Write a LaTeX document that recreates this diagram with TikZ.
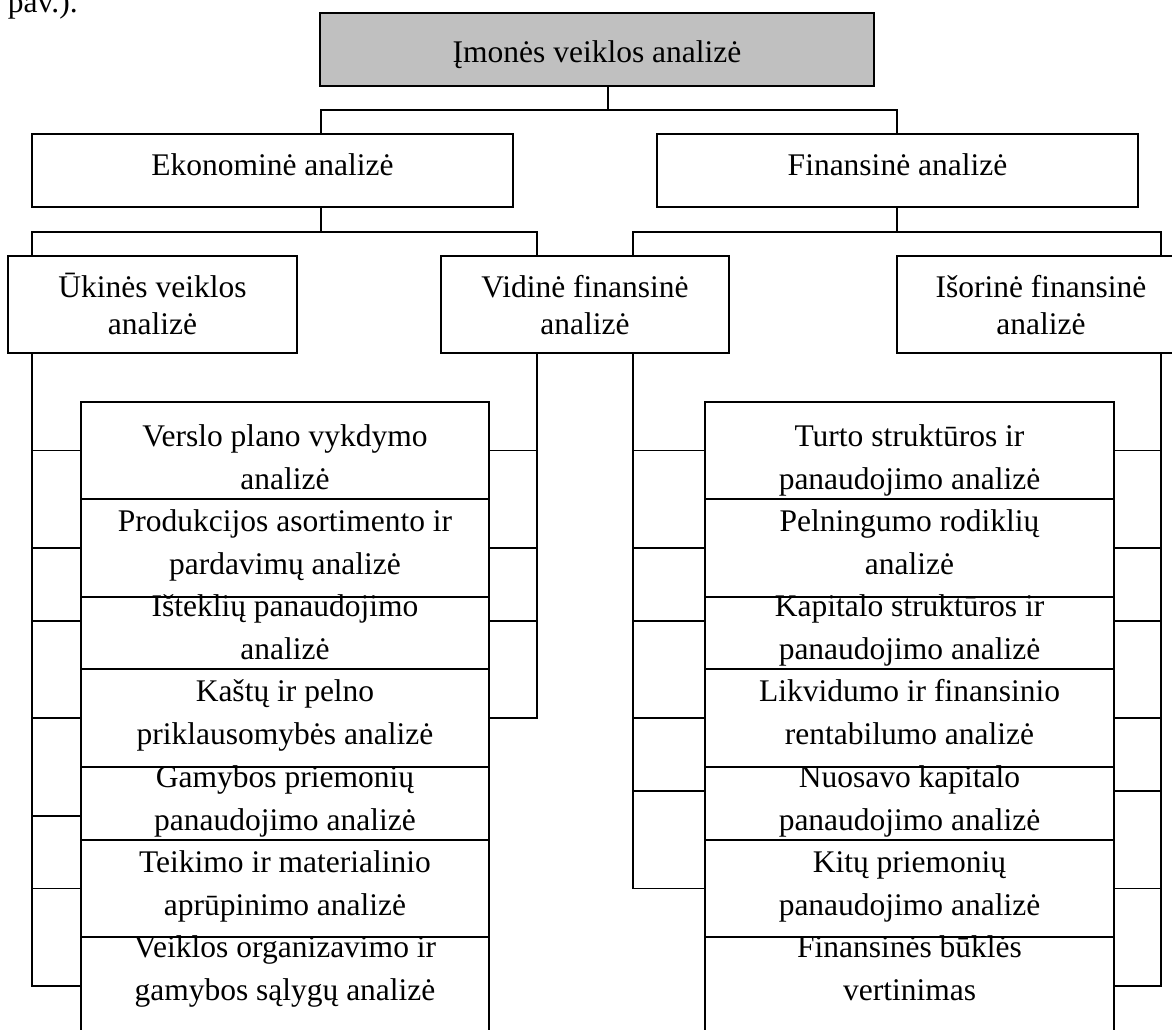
\documentclass[tikz,border=0pt]{standalone}
\usepackage{fontspec}
\setmainfont{Liberation Serif}
\definecolor{boxgray}{HTML}{C0C0C0}
\newcommand{\mytwo}[2]{\strut #1\\\strut #2}
\begin{document}
\begin{tikzpicture}[x=1pt,y=-1pt,line width=1.4pt,
  box/.style={draw=black,rectangle,inner sep=0pt,outer sep=0pt},
  lab/.style={inner sep=0pt,outer sep=0pt,align=center,font=\fontsize{31.5}{43}\selectfont},
  labtwo/.style={inner sep=0pt,outer sep=0pt,align=center,font=\fontsize{31.5}{37.5}\selectfont},
  labone/.style={inner sep=0pt,outer sep=0pt,anchor=base,font=\fontsize{31.5}{37.5}\selectfont},
  conn/.style={draw=black,line width=1.4pt}]
\useasboundingbox (0,0) rectangle (1172,1030);
\clip (0,0) rectangle (1172,1030);

% text above the chart
\node[labone,anchor=base west] (pav) at (8,13) {pav.).};

% level 0
\node[box,fill=boxgray,minimum width=554pt,minimum height=73pt] (top) at (597,49.5) {};
\node[labone] (ttop) at (597,63) {Įmonės veiklos analizė};

% level 1
\node[box,minimum width=481pt,minimum height=73pt] (eko) at (272.5,170.5) {};
\node[labone] (teko) at (272.5,175) {Ekonominė analizė};
\node[box,minimum width=481pt,minimum height=73pt] (fin) at (897.5,170.5) {};
\node[labone] (tfin) at (897.5,175) {Finansinė analizė};

% level 2
\node[box,minimum width=289pt,minimum height=97pt] (uki) at (152.5,304.5) {};
\node[labtwo] (tuki) at (152.5,308.25) {\mytwo{Ūkinės veiklos}{analizė}};
\node[box,minimum width=288pt,minimum height=97pt] (vid) at (585,304.5) {};
\node[labtwo] (tvid) at (585,308.25) {\mytwo{Vidinė finansinė}{analizė}};
\node[box,minimum width=288pt,minimum height=97pt] (iso) at (1041,304.5) {};
\node[labtwo] (tiso) at (1041,308.25) {\mytwo{Išorinė finansinė}{analizė}};

% left list
\node[box,minimum width=408pt,minimum height=97pt] (L1) at (285,450.5) {};
\node[box,minimum width=408pt,minimum height=98pt] (L2) at (285,548) {};
\node[box,minimum width=408pt,minimum height=72pt] (L3) at (285,633) {};
\node[box,minimum width=408pt,minimum height=98pt] (L4) at (285,718) {};
\node[box,minimum width=408pt,minimum height=73pt] (L5) at (285,803.5) {};
\node[box,minimum width=408pt,minimum height=97pt] (L6) at (285,888.5) {};
\node[box,minimum width=408pt,minimum height=98pt] (L7) at (285,986) {};
\node[lab] (tL1) at (285,458.9) {\mytwo{Verslo plano vykdymo}{analizė}};
\node[lab] (tL2) at (285,544.2) {\mytwo{Produkcijos asortimento ir}{pardavimų analizė}};
\node[lab] (tL3) at (285,629.5) {\mytwo{Išteklių panaudojimo}{analizė}};
\node[lab] (tL4) at (285,714.8) {\mytwo{Kaštų ir pelno}{priklausomybės analizė}};
\node[lab] (tL5) at (285,800.1) {\mytwo{Gamybos priemonių}{panaudojimo analizė}};
\node[lab] (tL6) at (285,885.4) {\mytwo{Teikimo ir materialinio}{aprūpinimo analizė}};
\node[lab] (tL7) at (285,970.7) {\mytwo{Veiklos organizavimo ir}{gamybos sąlygų analizė}};

% right list
\node[box,minimum width=409pt,minimum height=97pt] (R1) at (909.5,450.5) {};
\node[box,minimum width=409pt,minimum height=98pt] (R2) at (909.5,548) {};
\node[box,minimum width=409pt,minimum height=72pt] (R3) at (909.5,633) {};
\node[box,minimum width=409pt,minimum height=98pt] (R4) at (909.5,718) {};
\node[box,minimum width=409pt,minimum height=73pt] (R5) at (909.5,803.5) {};
\node[box,minimum width=409pt,minimum height=97pt] (R6) at (909.5,888.5) {};
\node[box,minimum width=409pt,minimum height=98pt] (R7) at (909.5,986) {};
\node[lab] (tR1) at (909.5,458.9) {\mytwo{Turto struktūros ir}{panaudojimo analizė}};
\node[lab] (tR2) at (909.5,544.2) {\mytwo{Pelningumo rodiklių}{analizė}};
\node[lab] (tR3) at (909.5,629.5) {\mytwo{Kapitalo struktūros ir}{panaudojimo analizė}};
\node[lab] (tR4) at (909.5,714.8) {\mytwo{Likvidumo ir finansinio}{rentabilumo analizė}};
\node[lab] (tR5) at (909.5,800.1) {\mytwo{Nuosavo kapitalo}{panaudojimo analizė}};
\node[lab] (tR6) at (909.5,885.4) {\mytwo{Kitų priemonių}{panaudojimo analizė}};
\node[lab] (tR7) at (909.5,970.7) {\mytwo{Finansinės būklės}{vertinimas}};

% junction coordinates
\coordinate (j0) at (608,110);
\coordinate (j1) at (321,232);
\coordinate (j2) at (897,232);
\coordinate (cE) at (321,0);
\coordinate (cF) at (897,0);
\coordinate (cU) at (32,0);
\coordinate (cV1) at (537,0);
\coordinate (cV2) at (633,0);
\coordinate (cI) at (1161,0);
\coordinate (L3w) at ([yshift=12pt]L3.west);
\coordinate (L3e) at ([yshift=12pt]L3.east);
\coordinate (L5w) at ([yshift=-12.5pt]L5.west);
\coordinate (R3w) at ([yshift=12pt]R3.west);
\coordinate (R3e) at ([yshift=12pt]R3.east);
\coordinate (R5w) at ([yshift=12.5pt]R5.west);
\coordinate (R5e) at ([yshift=12.5pt]R5.east);

% level 0 -> level 1
\draw[conn] (top.south -| j0) -- (j0);
\draw[conn] (eko.north -| cE) |- (j0) -| (fin.north -| cF);
% level 1 -> level 2
\draw[conn] (eko.south -| j1) -- (j1);
\draw[conn] (uki.north -| cU) |- (j1) -| (vid.north -| cV1);
\draw[conn] (fin.south -| j2) -- (j2);
\draw[conn] (vid.north -| cV2) |- (j2) -| (iso.north -| cI);

% Ukines -> left list (left side)
\draw[conn] (uki.south -| cU) |- (L7.west);
\foreach \p in {L1.west,L2.west,L3w,L4.west,L5w,L6.west}
  \draw[conn] (\p -| cU) -- (\p);
% Vidine -> left list (right side)
\draw[conn] (vid.south -| cV1) |- (L4.east);
\foreach \p in {L1.east,L2.east,L3e}
  \draw[conn] (\p -| cV1) -- (\p);
% Vidine -> right list (left side)
\draw[conn] (vid.south -| cV2) |- (R6.west);
\foreach \p in {R1.west,R2.west,R3w,R4.west,R5w}
  \draw[conn] (\p -| cV2) -- (\p);
% Isorine -> right list (right side)
\draw[conn] (iso.south -| cI) |- (R7.east);
\foreach \p in {R1.east,R2.east,R3e,R4.east,R5e,R6.east}
  \draw[conn] (\p -| cI) -- (\p);
\end{tikzpicture}
\end{document}
